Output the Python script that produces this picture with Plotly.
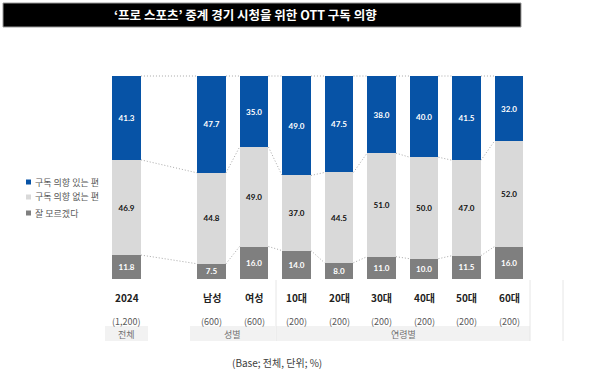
import plotly.graph_objects as go

# ---------------- data ----------------
categories = ["2024", "남성", "여성", "10대", "20대", "30대", "40대", "50대", "60대"]
samples = ["(1,200)", "(600)", "(600)", "(200)", "(200)", "(200)", "(200)", "(200)", "(200)"]
will_subscribe = [41.3, 47.7, 35.0, 49.0, 47.5, 38.0, 40.0, 41.5, 32.0]
wont_subscribe = [46.9, 44.8, 49.0, 37.0, 44.5, 51.0, 50.0, 47.0, 52.0]
dont_know = [11.8, 7.5, 16.0, 14.0, 8.0, 11.0, 10.0, 11.5, 16.0]
series_names = ["구독 의향 있는 편", "구독 의향 없는 편", "잘 모르겠다"]
groups = [("전체", ["2024"]), ("성별", ["남성", "여성"]),
          ("연령별", ["10대", "20대", "30대", "40대", "50대", "60대"])]
title = "‘프로 스포츠’ 중계 경기 시청을 위한 OTT 구독 의향"
note = "(Base; 전체, 단위; %)"

# ---------------- layout helpers ----------------
W, H = 600, 382
slot_order = ["2024", None, "남성", "여성", "10대", "20대", "30대", "40대", "50대", "60대"]
pos = [slot_order.index(c) for c in categories]
BAR_W = 0.68
C_BLUE, C_LIGHT, C_DARK = "#0753A6", "#D9D9D9", "#7F7F7F"
KFONT = "Noto Sans CJK KR"
NFONT = "Lato"

def px(x):
    return x / W

def py(y):
    return 1 - y / H

fig = go.Figure()

def bar(vals, color, tcolor):
    fig.add_trace(go.Bar(
        x=pos, y=vals, width=BAR_W, marker=dict(color=color, line=dict(width=0)),
        text=[f"{v:.1f}" for v in vals], textposition="inside",
        insidetextanchor="middle", textangle=0,
        textfont=dict(family=NFONT, size=10.5, color=tcolor, weight="bold"),
        showlegend=False, hoverinfo="skip"))

bar(dont_know, C_DARK, "white")
bar(wont_subscribe, C_LIGHT, "#111111")
bar(will_subscribe, C_BLUE, "white")

# dotted connectors between adjacent bars
levels = [
    [d for d in dont_know],
    [d + w for d, w in zip(dont_know, wont_subscribe)],
    [d + w + s for d, w, s in zip(dont_know, wont_subscribe, will_subscribe)],
]
for lv in levels:
    xs, ys = [], []
    for i in range(len(pos) - 1):
        xs += [pos[i] + BAR_W / 2, pos[i + 1] - BAR_W / 2, None]
        ys += [lv[i], lv[i + 1], None]
    fig.add_trace(go.Scatter(x=xs, y=ys, mode="lines",
                             line=dict(color="#A8A8A8", width=1, dash="1px,2px"),
                             showlegend=False, hoverinfo="skip"))

shapes = []
annotations = []

# title bar
shapes.append(dict(type="rect", xref="paper", yref="paper",
                   x0=px(3), x1=px(521), y0=py(27), y1=py(3),
                   fillcolor="black", line=dict(color="#9A9A9A", width=1), layer="below"))
annotations.append(dict(xref="paper", yref="paper", x=px(246), y=py(15),
                        text=f"<b>{title}</b>", showarrow=False,
                        font=dict(family=KFONT, size=12.5, color="white"),
                        xanchor="center", yanchor="middle"))

# legend (custom)
leg_colors = [C_BLUE, C_LIGHT, C_DARK]
leg_y = [182, 197, 213]
for name, col, yy in zip(series_names, leg_colors, leg_y):
    shapes.append(dict(type="rect", xref="paper", yref="paper",
                       x0=px(26), x1=px(31), y0=py(yy + 2.5), y1=py(yy - 2.5),
                       fillcolor=col, line=dict(width=0)))
    annotations.append(dict(xref="paper", yref="paper", x=px(33), y=py(yy),
                            text=name, showarrow=False, xanchor="left", yanchor="middle",
                            font=dict(family=KFONT, size=9, color="#595959")))

# category labels and sample sizes
for c, p, s in zip(categories, pos, samples):
    annotations.append(dict(xref="x", yref="paper", x=p, y=py(297), text=f"<b>{c}</b>",
                            showarrow=False, xanchor="center", yanchor="middle",
                            font=dict(family=KFONT, size=10, color="#222222")))
    annotations.append(dict(xref="x", yref="paper", x=p, y=py(321), text=s,
                            showarrow=False, xanchor="center", yanchor="middle",
                            font=dict(family=KFONT, size=9, color="#595959")))

# group bands
band_px = {"전체": (105, 148), "성별": (190, 275), "연령별": (276, 530)}
for gname, members in groups:
    x0, x1 = band_px[gname]
    shapes.append(dict(type="rect", xref="paper", yref="paper",
                       x0=px(x0), x1=px(x1), y0=py(341), y1=py(326),
                       fillcolor="#F2F2F2", line=dict(width=0), layer="below"))
    annotations.append(dict(xref="paper", yref="paper", x=px((x0 + x1) / 2), y=py(334),
                            text=gname, showarrow=False, xanchor="center", yanchor="middle",
                            font=dict(family=KFONT, size=9, color="#707070")))

# faint separators
for xx in (276, 530, 563):
    shapes.append(dict(type="line", xref="paper", yref="paper",
                       x0=px(xx), x1=px(xx), y0=py(280), y1=py(341),
                       line=dict(color="#E6E6E6", width=1)))

annotations.append(dict(xref="paper", yref="paper", x=px(277), y=py(362), text=note,
                        showarrow=False, xanchor="center", yanchor="middle",
                        font=dict(family=KFONT, size=10, color="#404040")))

fig.update_layout(
    width=W, height=H, margin=dict(l=0, r=0, t=0, b=0),
    paper_bgcolor="white", plot_bgcolor="rgba(0,0,0,0)",
    barmode="stack", bargap=0,
    xaxis=dict(range=[-126.5 / 42.5, (W - 126.5) / 42.5], visible=False, fixedrange=True),
    yaxis=dict(range=[-(H - 279) / 2.03, 100 + 76 / 2.03], visible=False, fixedrange=True),
    shapes=shapes, annotations=annotations,
    uniformtext=dict(mode="show", minsize=8),
)

fig.write_html("out.html", config={"staticPlot": True},
               post_script="document.body.style.margin='0';document.body.style.overflow='hidden';")
